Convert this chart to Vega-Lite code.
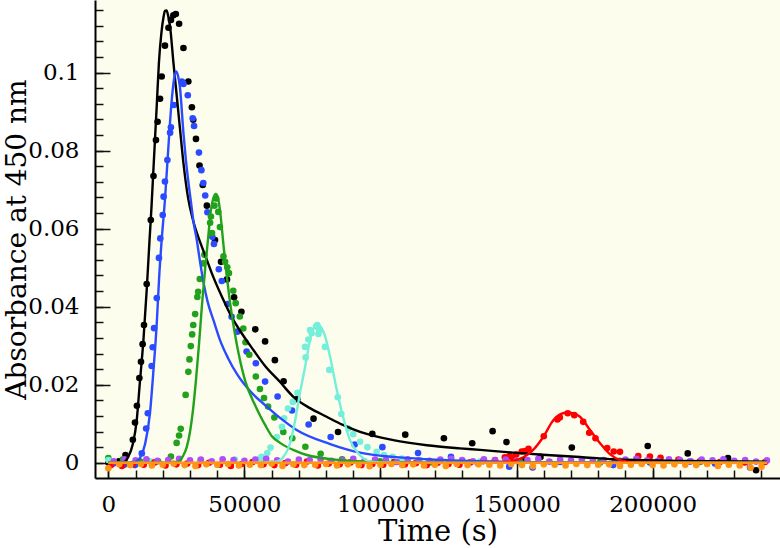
{
  "$schema": "https://vega.github.io/schema/vega-lite/v6.json",
  "width": 685,
  "height": 478,
  "autosize": {"type": "none"},
  "padding": {"left": 95, "top": 0, "right": 0, "bottom": 70},
  "background": "white",
  "config": {
    "view": {"fill": "#fdfdee", "stroke": null},
    "axis": {
      "labelFont": "DejaVu Serif",
      "labelFontSize": 23,
      "labelColor": "black",
      "titleFont": "DejaVu Serif",
      "titleFontSize": 29,
      "titleFontWeight": "normal",
      "titleColor": "black",
      "domainColor": "black",
      "domainWidth": 2,
      "tickColor": "#111111",
      "tickWidth": 1.5,
      "grid": false
    }
  },
  "datasets": {
    "pts": [
      {"s":"S1","t":0,"a":0.0001},{"s":"S1","t":1900,"a":0.0002},{"s":"S1","t":3900,"a":0.0004},{"s":"S1","t":6300,"a":0.0020},
      {"s":"S1","t":9000,"a":0.0059},{"s":"S1","t":9800,"a":0.0103},{"s":"S1","t":10500,"a":0.0146},{"s":"S1","t":11400,"a":0.0217},
      {"s":"S1","t":12000,"a":0.0259},{"s":"S1","t":12600,"a":0.0304},{"s":"S1","t":13100,"a":0.0353},{"s":"S1","t":14100,"a":0.0458},
      {"s":"S1","t":15600,"a":0.0622},{"s":"S1","t":16600,"a":0.0735},{"s":"S1","t":17500,"a":0.0827},{"s":"S1","t":18100,"a":0.0874},
      {"s":"S1","t":19000,"a":0.0933},{"s":"S1","t":19600,"a":0.0990},{"s":"S1","t":20800,"a":0.1069},{"s":"S1","t":22100,"a":0.1115},
      {"s":"S1","t":23000,"a":0.1135},{"s":"S1","t":23900,"a":0.1147},{"s":"S1","t":24800,"a":0.1150},{"s":"S1","t":26000,"a":0.1125},
      {"s":"S1","t":27600,"a":0.1063},{"s":"S1","t":29400,"a":0.0977},{"s":"S1","t":30700,"a":0.0911},{"s":"S1","t":31200,"a":0.0879},
      {"s":"S1","t":32200,"a":0.0830},{"s":"S1","t":33500,"a":0.0762},{"s":"S1","t":34700,"a":0.0712},{"s":"S1","t":36200,"a":0.0659},
      {"s":"S1","t":39200,"a":0.0571},{"s":"S1","t":41400,"a":0.0515},{"s":"S1","t":43600,"a":0.0470},{"s":"S1","t":46200,"a":0.0424},
      {"s":"S1","t":48900,"a":0.0387},{"s":"S1","t":54000,"a":0.0342},{"s":"S1","t":57600,"a":0.0311},{"s":"S1","t":61200,"a":0.0263},
      {"s":"S1","t":64400,"a":0.0209},{"s":"S1","t":69400,"a":0.0163},{"s":"S1","t":75400,"a":0.0113},{"s":"S1","t":84400,"a":0.0079},
      {"s":"S1","t":97000,"a":0.0074},{"s":"S1","t":109100,"a":0.0072},{"s":"S1","t":123300,"a":0.0063},{"s":"S1","t":133700,"a":0.0050},
      {"s":"S1","t":141200,"a":0.0081},{"s":"S1","t":146300,"a":0.0053},{"s":"S1","t":152700,"a":0.0006},{"s":"S1","t":158800,"a":0.0015},
      {"s":"S1","t":170300,"a":0.0039},{"s":"S1","t":198200,"a":0.0043},{"s":"S1","t":212900,"a":0.0024},{"s":"S1","t":227700,"a":0.0012},
      {"s":"S1","t":238000,"a":-0.0019},

      {"s":"S2","t":1800,"a":-0.0002},{"s":"S2","t":5800,"a":-0.0005},{"s":"S2","t":9800,"a":-0.0006},{"s":"S2","t":12300,"a":0.0024},
      {"s":"S2","t":13900,"a":0.0088},{"s":"S2","t":14500,"a":0.0127},{"s":"S2","t":15900,"a":0.0248},{"s":"S2","t":16300,"a":0.0296},
      {"s":"S2","t":16800,"a":0.0345},{"s":"S2","t":17800,"a":0.0422},{"s":"S2","t":18600,"a":0.0525},{"s":"S2","t":19100,"a":0.0575},
      {"s":"S2","t":20000,"a":0.0635},{"s":"S2","t":20300,"a":0.0682},{"s":"S2","t":20800,"a":0.0721},{"s":"S2","t":21700,"a":0.0776},
      {"s":"S2","t":22700,"a":0.0846},{"s":"S2","t":23000,"a":0.0860},{"s":"S2","t":24100,"a":0.0917},{"s":"S2","t":27000,"a":0.0977},
      {"s":"S2","t":27600,"a":0.0971},{"s":"S2","t":29200,"a":0.0942},{"s":"S2","t":31000,"a":0.0883},{"s":"S2","t":31500,"a":0.0863},
      {"s":"S2","t":33300,"a":0.0795},{"s":"S2","t":34200,"a":0.0750},{"s":"S2","t":34900,"a":0.0717},{"s":"S2","t":35600,"a":0.0685},
      {"s":"S2","t":36400,"a":0.0642},{"s":"S2","t":38200,"a":0.0579},{"s":"S2","t":38800,"a":0.0561},{"s":"S2","t":40600,"a":0.0496},
      {"s":"S2","t":41700,"a":0.0466},{"s":"S2","t":43800,"a":0.0407},{"s":"S2","t":45300,"a":0.0374},{"s":"S2","t":47400,"a":0.0336},
      {"s":"S2","t":50800,"a":0.0285},{"s":"S2","t":54200,"a":0.0255},{"s":"S2","t":57600,"a":0.0208},{"s":"S2","t":62200,"a":0.0170},
      {"s":"S2","t":67500,"a":0.0134},{"s":"S2","t":73600,"a":0.0098},{"s":"S2","t":81700,"a":0.0066},{"s":"S2","t":90500,"a":0.0047},
      {"s":"S2","t":100700,"a":0.0040},{"s":"S2","t":113800,"a":0.0025},{"s":"S2","t":125900,"a":0.0015},{"s":"S2","t":135800,"a":-0.0001},
      {"s":"S2","t":147300,"a":-0.0010},{"s":"S2","t":155900,"a":-0.0012},{"s":"S2","t":166000,"a":0.0002},{"s":"S2","t":185500,"a":-0.0006},
      {"s":"S2","t":199000,"a":0.0001},{"s":"S2","t":213700,"a":0.0003},{"s":"S2","t":222900,"a":-0.0002},{"s":"S2","t":235800,"a":-0.0012},

      {"s":"S3","t":0,"a":0.0012},{"s":"S3","t":5400,"a":0.0009},{"s":"S3","t":11600,"a":0.0004},{"s":"S3","t":18300,"a":0.0004},
      {"s":"S3","t":23000,"a":0.0016},{"s":"S3","t":25100,"a":0.0051},{"s":"S3","t":26000,"a":0.0070},{"s":"S3","t":26600,"a":0.0087},
      {"s":"S3","t":28400,"a":0.0174},{"s":"S3","t":29400,"a":0.0233},{"s":"S3","t":29800,"a":0.0265},{"s":"S3","t":30300,"a":0.0299},
      {"s":"S3","t":30800,"a":0.0329},{"s":"S3","t":31200,"a":0.0353},{"s":"S3","t":31900,"a":0.0381},{"s":"S3","t":32700,"a":0.0425},
      {"s":"S3","t":33000,"a":0.0438},{"s":"S3","t":33600,"a":0.0471},{"s":"S3","t":34800,"a":0.0511},{"s":"S3","t":35300,"a":0.0533},
      {"s":"S3","t":37400,"a":0.0615},{"s":"S3","t":37700,"a":0.0631},{"s":"S3","t":38100,"a":0.0589},{"s":"S3","t":39000,"a":0.0659},
      {"s":"S3","t":39600,"a":0.0677},{"s":"S3","t":40400,"a":0.0643},{"s":"S3","t":41000,"a":0.0604},{"s":"S3","t":42300,"a":0.0529},
      {"s":"S3","t":42900,"a":0.0515},{"s":"S3","t":43700,"a":0.0501},{"s":"S3","t":44300,"a":0.0486},{"s":"S3","t":45900,"a":0.0441},
      {"s":"S3","t":46800,"a":0.0409},{"s":"S3","t":48300,"a":0.0375},{"s":"S3","t":49600,"a":0.0344},{"s":"S3","t":50400,"a":0.0309},
      {"s":"S3","t":51800,"a":0.0277},{"s":"S3","t":54200,"a":0.0221},{"s":"S3","t":55700,"a":0.0189},{"s":"S3","t":57200,"a":0.0166},
      {"s":"S3","t":58700,"a":0.0144},{"s":"S3","t":61000,"a":0.0116},{"s":"S3","t":64300,"a":0.0079},{"s":"S3","t":67600,"a":0.0063},
      {"s":"S3","t":72400,"a":0.0041},{"s":"S3","t":78000,"a":0.0023},{"s":"S3","t":85900,"a":0.0009},{"s":"S3","t":99800,"a":0.0004},
      {"s":"S3","t":118200,"a":0.0001},{"s":"S3","t":151300,"a":0.0002},{"s":"S3","t":180700,"a":0.0001},{"s":"S3","t":217400,"a":0.0002},

      {"s":"S4","t":0,"a":0.0007},{"s":"S4","t":15300,"a":0.0004},{"s":"S4","t":33700,"a":0.0006},{"s":"S4","t":46500,"a":0.0008},
      {"s":"S4","t":55700,"a":0.0011},{"s":"S4","t":56300,"a":0.0015},{"s":"S4","t":58400,"a":0.0025},{"s":"S4","t":59600,"a":0.0039},
      {"s":"S4","t":61900,"a":0.0066},{"s":"S4","t":63800,"a":0.0092},{"s":"S4","t":64600,"a":0.0114},{"s":"S4","t":66000,"a":0.0139},
      {"s":"S4","t":67800,"a":0.0156},{"s":"S4","t":69500,"a":0.0179},{"s":"S4","t":72300,"a":0.0297},{"s":"S4","t":72500,"a":0.0270},
      {"s":"S4","t":73500,"a":0.0316},{"s":"S4","t":74100,"a":0.0340},{"s":"S4","t":74700,"a":0.0332},{"s":"S4","t":76300,"a":0.0349},
      {"s":"S4","t":76800,"a":0.0353},{"s":"S4","t":77200,"a":0.0330},{"s":"S4","t":77500,"a":0.0340},{"s":"S4","t":79600,"a":0.0297},
      {"s":"S4","t":81200,"a":0.0238},{"s":"S4","t":84300,"a":0.0168},{"s":"S4","t":85600,"a":0.0125},{"s":"S4","t":88200,"a":0.0088},
      {"s":"S4","t":90000,"a":0.0073},{"s":"S4","t":92500,"a":0.0054},{"s":"S4","t":95200,"a":0.0040},{"s":"S4","t":98600,"a":0.0028},
      {"s":"S4","t":101300,"a":0.0020},{"s":"S4","t":104500,"a":0.0015},{"s":"S4","t":107800,"a":0.0011},{"s":"S4","t":114500,"a":0.0007},
      {"s":"S4","t":136600,"a":0.0004},{"s":"S4","t":162300,"a":0.0002},{"s":"S4","t":188000,"a":0.0006},{"s":"S4","t":217400,"a":0.0004},

      {"s":"S5","t":1000,"a":-0.0006},{"s":"S5","t":5000,"a":-0.0008},{"s":"S5","t":9000,"a":-0.0003},{"s":"S5","t":13000,"a":-0.0005},
      {"s":"S5","t":17000,"a":0.0001},{"s":"S5","t":21000,"a":-0.0007},{"s":"S5","t":25000,"a":-0.0004},{"s":"S5","t":29000,"a":-0.0002},
      {"s":"S5","t":33000,"a":-0.0006},{"s":"S5","t":37000,"a":0.0000},{"s":"S5","t":41000,"a":-0.0005},{"s":"S5","t":45000,"a":-0.0008},
      {"s":"S5","t":49000,"a":-0.0003},{"s":"S5","t":53000,"a":0.0002},{"s":"S5","t":57000,"a":-0.0004},{"s":"S5","t":61000,"a":-0.0006},
      {"s":"S5","t":65000,"a":-0.0001},{"s":"S5","t":69000,"a":-0.0005},{"s":"S5","t":73000,"a":0.0003},{"s":"S5","t":77000,"a":-0.0007},
      {"s":"S5","t":81000,"a":-0.0002},{"s":"S5","t":85000,"a":-0.0004},{"s":"S5","t":89000,"a":0.0001},{"s":"S5","t":93000,"a":-0.0006},
      {"s":"S5","t":97000,"a":-0.0003},{"s":"S5","t":101000,"a":-0.0005},{"s":"S5","t":105000,"a":0.0002},{"s":"S5","t":109000,"a":-0.0004},
      {"s":"S5","t":113000,"a":-0.0001},{"s":"S5","t":117000,"a":-0.0006},{"s":"S5","t":121000,"a":0.0000},{"s":"S5","t":125000,"a":-0.0003},
      {"s":"S5","t":129000,"a":-0.0005},{"s":"S5","t":133000,"a":0.0001},
      {"s":"S5","t":137700,"a":0.0004},{"s":"S5","t":142100,"a":0.0007},{"s":"S5","t":145700,"a":0.0014},{"s":"S5","t":147400,"a":0.0017},
      {"s":"S5","t":148300,"a":0.0014},{"s":"S5","t":149900,"a":0.0021},{"s":"S5","t":151900,"a":0.0029},{"s":"S5","t":153100,"a":0.0030},
      {"s":"S5","t":154400,"a":0.0036},{"s":"S5","t":160000,"a":0.0068},{"s":"S5","t":165000,"a":0.0111},{"s":"S5","t":165900,"a":0.0116},
      {"s":"S5","t":168800,"a":0.0127},{"s":"S5","t":171200,"a":0.0122},{"s":"S5","t":174500,"a":0.0105},{"s":"S5","t":176700,"a":0.0077},
      {"s":"S5","t":179000,"a":0.0063},{"s":"S5","t":183300,"a":0.0038},{"s":"S5","t":185700,"a":0.0029},{"s":"S5","t":188000,"a":0.0028},
      {"s":"S5","t":194700,"a":0.0017},{"s":"S5","t":199000,"a":0.0016},{"s":"S5","t":202900,"a":0.0013},{"s":"S5","t":209500,"a":0.0008},
      {"s":"S5","t":217400,"a":0.0004},{"s":"S5","t":224700,"a":0.0002},{"s":"S5","t":233900,"a":0.0001},{"s":"S5","t":241300,"a":0.0002},

      {"s":"S6","t":2000,"a":0.0004},{"s":"S6","t":6000,"a":0.0008},{"s":"S6","t":10000,"a":0.0006},{"s":"S6","t":14000,"a":0.0009},
      {"s":"S6","t":18000,"a":0.0005},{"s":"S6","t":22000,"a":0.0007},{"s":"S6","t":26000,"a":0.0010},{"s":"S6","t":30000,"a":0.0006},
      {"s":"S6","t":34000,"a":0.0008},{"s":"S6","t":38000,"a":0.0004},{"s":"S6","t":42000,"a":0.0009},{"s":"S6","t":46000,"a":0.0007},
      {"s":"S6","t":50000,"a":0.0005},{"s":"S6","t":54000,"a":0.0008},{"s":"S6","t":58000,"a":0.0010},{"s":"S6","t":62000,"a":0.0006},
      {"s":"S6","t":66000,"a":0.0003},{"s":"S6","t":70000,"a":0.0008},{"s":"S6","t":74000,"a":0.0007},{"s":"S6","t":78000,"a":0.0009},
      {"s":"S6","t":82000,"a":0.0005},{"s":"S6","t":86000,"a":0.0006},{"s":"S6","t":90000,"a":0.0010},{"s":"S6","t":94000,"a":0.0004},
      {"s":"S6","t":98000,"a":0.0008},{"s":"S6","t":102000,"a":0.0007},{"s":"S6","t":106000,"a":0.0002},{"s":"S6","t":110000,"a":0.0009},
      {"s":"S6","t":114000,"a":0.0006},{"s":"S6","t":118000,"a":0.0005},{"s":"S6","t":122000,"a":0.0008},{"s":"S6","t":126000,"a":0.0010},
      {"s":"S6","t":130000,"a":0.0007},{"s":"S6","t":134000,"a":0.0004},{"s":"S6","t":138000,"a":0.0009},{"s":"S6","t":142000,"a":0.0006},
      {"s":"S6","t":146000,"a":0.0008},{"s":"S6","t":150000,"a":0.0005},{"s":"S6","t":154000,"a":0.0007},{"s":"S6","t":158000,"a":0.0010},
      {"s":"S6","t":162000,"a":0.0003},{"s":"S6","t":166000,"a":0.0008},{"s":"S6","t":170000,"a":0.0006},{"s":"S6","t":174000,"a":0.0009},
      {"s":"S6","t":178000,"a":0.0005},{"s":"S6","t":182000,"a":0.0007},{"s":"S6","t":186000,"a":0.0004},{"s":"S6","t":190000,"a":0.0008},
      {"s":"S6","t":194000,"a":0.0010},{"s":"S6","t":198000,"a":0.0006},{"s":"S6","t":202000,"a":0.0005},{"s":"S6","t":206000,"a":0.0009},
      {"s":"S6","t":210000,"a":0.0007},{"s":"S6","t":214000,"a":0.0004},{"s":"S6","t":218000,"a":0.0008},{"s":"S6","t":222000,"a":0.0006},
      {"s":"S6","t":226000,"a":0.0009},{"s":"S6","t":230000,"a":0.0005},{"s":"S6","t":234000,"a":0.0007},{"s":"S6","t":238000,"a":0.0003},
      {"s":"S6","t":242000,"a":0.0006},

      {"s":"S7","t":0,"a":-0.0014},{"s":"S7","t":4000,"a":-0.0004},{"s":"S7","t":8000,"a":-0.0006},{"s":"S7","t":12000,"a":-0.0003},
      {"s":"S7","t":16000,"a":-0.0007},{"s":"S7","t":20000,"a":-0.0005},{"s":"S7","t":24000,"a":-0.0002},{"s":"S7","t":28000,"a":-0.0006},
      {"s":"S7","t":32000,"a":-0.0008},{"s":"S7","t":36000,"a":-0.0004},{"s":"S7","t":40000,"a":-0.0005},{"s":"S7","t":44000,"a":-0.0003},
      {"s":"S7","t":48000,"a":-0.0007},{"s":"S7","t":52000,"a":-0.0005},{"s":"S7","t":56000,"a":-0.0006},{"s":"S7","t":60000,"a":-0.0002},
      {"s":"S7","t":64000,"a":-0.0008},{"s":"S7","t":68000,"a":-0.0004},{"s":"S7","t":72000,"a":-0.0006},{"s":"S7","t":76000,"a":-0.0005},
      {"s":"S7","t":80000,"a":-0.0003},{"s":"S7","t":84000,"a":-0.0007},{"s":"S7","t":88000,"a":-0.0004},{"s":"S7","t":92000,"a":-0.0006},
      {"s":"S7","t":96000,"a":-0.0009},{"s":"S7","t":100000,"a":-0.0005},{"s":"S7","t":104000,"a":-0.0003},{"s":"S7","t":108000,"a":-0.0006},
      {"s":"S7","t":112000,"a":-0.0004},{"s":"S7","t":116000,"a":-0.0007},{"s":"S7","t":120000,"a":-0.0005},{"s":"S7","t":124000,"a":-0.0008},
      {"s":"S7","t":128000,"a":-0.0003},{"s":"S7","t":132000,"a":-0.0006},{"s":"S7","t":136000,"a":-0.0004},{"s":"S7","t":140000,"a":-0.0005},
      {"s":"S7","t":144000,"a":-0.0007},{"s":"S7","t":148000,"a":-0.0003},{"s":"S7","t":152000,"a":-0.0006},{"s":"S7","t":156000,"a":-0.0009},
      {"s":"S7","t":160000,"a":-0.0004},{"s":"S7","t":164000,"a":-0.0005},{"s":"S7","t":168000,"a":-0.0007},{"s":"S7","t":172000,"a":-0.0003},
      {"s":"S7","t":176000,"a":-0.0006},{"s":"S7","t":180000,"a":-0.0005},{"s":"S7","t":184000,"a":-0.0004},{"s":"S7","t":188000,"a":-0.0008},
      {"s":"S7","t":192000,"a":-0.0005},{"s":"S7","t":196000,"a":-0.0003},{"s":"S7","t":200000,"a":-0.0006},{"s":"S7","t":204000,"a":-0.0007},
      {"s":"S7","t":208000,"a":-0.0004},{"s":"S7","t":212000,"a":-0.0005},{"s":"S7","t":216000,"a":-0.0006},{"s":"S7","t":220000,"a":-0.0003},
      {"s":"S7","t":224000,"a":-0.0008},{"s":"S7","t":228000,"a":-0.0005},{"s":"S7","t":232000,"a":-0.0007},{"s":"S7","t":236000,"a":-0.0012},
      {"s":"S7","t":240000,"a":-0.0010}
    ],
    "fit": [
      {"s":"S1","t":0,"a":0},{"s":"S1","t":4300,"a":0},{"s":"S1","t":5800,"a":0.0002},{"s":"S1","t":7300,"a":0.0015},
      {"s":"S1","t":9000,"a":0.0048},{"s":"S1","t":10400,"a":0.0107},{"s":"S1","t":11600,"a":0.0207},{"s":"S1","t":12900,"a":0.0315},
      {"s":"S1","t":14100,"a":0.0443},{"s":"S1","t":15100,"a":0.0566},{"s":"S1","t":15900,"a":0.0661},{"s":"S1","t":16600,"a":0.0756},
      {"s":"S1","t":17800,"a":0.0917},{"s":"S1","t":18600,"a":0.1027},{"s":"S1","t":19500,"a":0.1102},{"s":"S1","t":20300,"a":0.1143},
      {"s":"S1","t":20800,"a":0.1158},{"s":"S1","t":21400,"a":0.1159},{"s":"S1","t":22000,"a":0.1145},{"s":"S1","t":22700,"a":0.1117},
      {"s":"S1","t":23900,"a":0.1027},{"s":"S1","t":25100,"a":0.0943},{"s":"S1","t":26300,"a":0.0858},{"s":"S1","t":27600,"a":0.0768},
      {"s":"S1","t":29300,"a":0.0679},{"s":"S1","t":31100,"a":0.0622},{"s":"S1","t":33700,"a":0.0566},{"s":"S1","t":36100,"a":0.0522},
      {"s":"S1","t":38000,"a":0.0486},{"s":"S1","t":41700,"a":0.0426},{"s":"S1","t":45300,"a":0.0374},{"s":"S1","t":49000,"a":0.0332},
      {"s":"S1","t":53300,"a":0.0289},{"s":"S1","t":57600,"a":0.0248},{"s":"S1","t":63100,"a":0.0207},{"s":"S1","t":68000,"a":0.0169},
      {"s":"S1","t":74100,"a":0.0140},{"s":"S1","t":80200,"a":0.0118},{"s":"S1","t":86200,"a":0.0097},{"s":"S1","t":92500,"a":0.0079},
      {"s":"S1","t":104700,"a":0.0058},{"s":"S1","t":117000,"a":0.0045},{"s":"S1","t":129200,"a":0.0037},{"s":"S1","t":136600,"a":0.0033},
      {"s":"S1","t":148800,"a":0.0026},{"s":"S1","t":161100,"a":0.0020},{"s":"S1","t":173300,"a":0.0015},{"s":"S1","t":185500,"a":0.0009},
      {"s":"S1","t":210000,"a":0.0005},{"s":"S1","t":241900,"a":0.0003},

      {"s":"S2","t":0,"a":0},{"s":"S2","t":8700,"a":0},{"s":"S2","t":10200,"a":0.0003},{"s":"S2","t":11600,"a":0.0012},
      {"s":"S2","t":13500,"a":0.0048},{"s":"S2","t":15300,"a":0.0127},{"s":"S2","t":16500,"a":0.0230},{"s":"S2","t":17800,"a":0.0358},
      {"s":"S2","t":18700,"a":0.0479},{"s":"S2","t":19600,"a":0.0571},{"s":"S2","t":20800,"a":0.0674},{"s":"S2","t":22000,"a":0.0802},
      {"s":"S2","t":23300,"a":0.0930},{"s":"S2","t":24100,"a":0.0981},{"s":"S2","t":24900,"a":0.1003},{"s":"S2","t":25600,"a":0.0992},
      {"s":"S2","t":26300,"a":0.0963},{"s":"S2","t":27600,"a":0.0845},{"s":"S2","t":28500,"a":0.0776},{"s":"S2","t":29500,"a":0.0715},
      {"s":"S2","t":30400,"a":0.0666},{"s":"S2","t":31300,"a":0.0617},{"s":"S2","t":32500,"a":0.0571},{"s":"S2","t":33700,"a":0.0515},
      {"s":"S2","t":35000,"a":0.0461},{"s":"S2","t":36400,"a":0.0415},{"s":"S2","t":38600,"a":0.0366},{"s":"S2","t":41000,"a":0.0315},
      {"s":"S2","t":44000,"a":0.0268},{"s":"S2","t":47300,"a":0.0227},{"s":"S2","t":52700,"a":0.0179},{"s":"S2","t":57600,"a":0.0148},
      {"s":"S2","t":63100,"a":0.0115},{"s":"S2","t":69200,"a":0.0084},{"s":"S2","t":81500,"a":0.0048},{"s":"S2","t":92500,"a":0.0026},
      {"s":"S2","t":104700,"a":0.0015},{"s":"S2","t":117000,"a":0.0009},{"s":"S2","t":136600,"a":0.0004},{"s":"S2","t":166000,"a":0.0001},
      {"s":"S2","t":241900,"a":0},

      {"s":"S3","t":0,"a":0},{"s":"S3","t":24100,"a":0},{"s":"S3","t":26000,"a":0.0004},{"s":"S3","t":27400,"a":0.0017},
      {"s":"S3","t":28800,"a":0.0040},{"s":"S3","t":30000,"a":0.0079},{"s":"S3","t":31100,"a":0.0135},{"s":"S3","t":32200,"a":0.0212},
      {"s":"S3","t":33300,"a":0.0302},{"s":"S3","t":34400,"a":0.0404},{"s":"S3","t":35700,"a":0.0507},{"s":"S3","t":36600,"a":0.0571},
      {"s":"S3","t":37700,"a":0.0648},{"s":"S3","t":38500,"a":0.0676},{"s":"S3","t":39500,"a":0.0689},{"s":"S3","t":40300,"a":0.0679},
      {"s":"S3","t":41000,"a":0.0648},{"s":"S3","t":42500,"a":0.0545},{"s":"S3","t":44700,"a":0.0412},{"s":"S3","t":47200,"a":0.0304},
      {"s":"S3","t":50200,"a":0.0212},{"s":"S3","t":53900,"a":0.0148},{"s":"S3","t":55700,"a":0.0122},{"s":"S3","t":57600,"a":0.0097},
      {"s":"S3","t":60100,"a":0.0068},{"s":"S3","t":63100,"a":0.0051},{"s":"S3","t":67900,"a":0.0033},{"s":"S3","t":72900,"a":0.0020},
      {"s":"S3","t":77800,"a":0.0013},{"s":"S3","t":85100,"a":0.0007},{"s":"S3","t":99800,"a":0.0002},{"s":"S3","t":125500,"a":0},
      {"s":"S3","t":241900,"a":0},

      {"s":"S4","t":52100,"a":0},{"s":"S4","t":57600,"a":0.0001},{"s":"S4","t":61900,"a":0.0003},{"s":"S4","t":64300,"a":0.0015},
      {"s":"S4","t":66800,"a":0.0050},{"s":"S4","t":68600,"a":0.0107},{"s":"S4","t":70400,"a":0.0178},{"s":"S4","t":72300,"a":0.0246},
      {"s":"S4","t":73400,"a":0.0289},{"s":"S4","t":74100,"a":0.0315},{"s":"S4","t":75200,"a":0.0340},{"s":"S4","t":76800,"a":0.0354},
      {"s":"S4","t":78100,"a":0.0348},{"s":"S4","t":79600,"a":0.0325},{"s":"S4","t":81500,"a":0.0271},{"s":"S4","t":83700,"a":0.0195},
      {"s":"S4","t":86100,"a":0.0122},{"s":"S4","t":88800,"a":0.0058},{"s":"S4","t":91900,"a":0.0024},{"s":"S4","t":95500,"a":0.0005},
      {"s":"S4","t":99800,"a":0.0001},{"s":"S4","t":107200,"a":0},

      {"s":"S5","t":136600,"a":0},{"s":"S5","t":143900,"a":0.0001},{"s":"S5","t":148800,"a":0.0005},{"s":"S5","t":152500,"a":0.0014},
      {"s":"S5","t":156100,"a":0.0033},{"s":"S5","t":159800,"a":0.0066},{"s":"S5","t":163500,"a":0.0109},{"s":"S5","t":166000,"a":0.0124},
      {"s":"S5","t":168600,"a":0.0129},{"s":"S5","t":171100,"a":0.0126},{"s":"S5","t":173300,"a":0.0118},{"s":"S5","t":177000,"a":0.0084},
      {"s":"S5","t":180700,"a":0.0050},{"s":"S5","t":184300,"a":0.0022},{"s":"S5","t":188000,"a":0.0007},{"s":"S5","t":192900,"a":0.0001},
      {"s":"S5","t":202700,"a":0},

      {"s":"S7","t":0,"a":0},{"s":"S7","t":242000,"a":0}
    ]
  },
  "layer": [
    {
      "data": {"name": "pts"},
      "mark": {"type": "circle", "size": 44, "opacity": 1, "clip": true},
      "encoding": {
        "x": {
          "field": "t", "type": "quantitative",
          "scale": {"domain": [-4900, 246800], "nice": false, "zero": false},
          "axis": {
            "orient": "bottom", "title": null, "labels": false, "domain": false,
            "values": [0,10000,20000,30000,40000,50000,60000,70000,80000,90000,100000,110000,120000,130000,140000,150000,160000,170000,180000,190000,200000,210000,220000,230000,240000],
            "tickSize": -8
          }
        },
        "y": {
          "field": "a", "type": "quantitative",
          "scale": {"domain": [-0.0039, 0.1186], "nice": false, "zero": false},
          "axis": {
            "orient": "left", "title": null, "labels": false, "domain": false,
            "values": [0,0.004,0.008,0.012,0.016,0.02,0.024,0.028,0.032,0.036,0.04,0.044,0.048,0.052,0.056,0.06,0.064,0.068,0.072,0.076,0.08,0.084,0.088,0.092,0.096,0.1,0.104,0.108,0.112,0.116],
            "tickSize": -8
          }
        },
        "color": {
          "field": "s", "type": "nominal", "legend": null,
          "scale": {
            "domain": ["S1","S2","S3","S4","S5","S6","S7"],
            "range": ["#000000","#2a4bff","#22a11c","#74efd9","#ff0000","#b24dff","#ff9417"]
          }
        }
      }
    },
    {
      "data": {"name": "fit"},
      "mark": {"type": "line", "strokeWidth": 2.4, "interpolate": "monotone", "clip": true},
      "encoding": {
        "x": {
          "field": "t", "type": "quantitative",
          "scale": {"domain": [-4900, 246800], "nice": false, "zero": false},
          "axis": {
            "orient": "bottom", "title": "Time (s)", "format": "d",
            "values": [0,50000,100000,150000,200000],
            "tickSize": -15, "labelPadding": 30, "titlePadding": 1
          }
        },
        "y": {
          "field": "a", "type": "quantitative",
          "scale": {"domain": [-0.0039, 0.1186], "nice": false, "zero": false},
          "axis": {
            "orient": "left", "title": "Absorbance at 450 nm", "format": ".2~f",
            "values": [0,0.02,0.04,0.06,0.08,0.1],
            "tickSize": -15, "labelPadding": 31, "titlePadding": -4, "titleFontSize": 28
          }
        },
        "color": {"field": "s", "type": "nominal", "legend": null},
        "detail": {"field": "s"}
      }
    }
  ],
  "resolve": {"axis": {"x": "independent", "y": "independent"}}
}
